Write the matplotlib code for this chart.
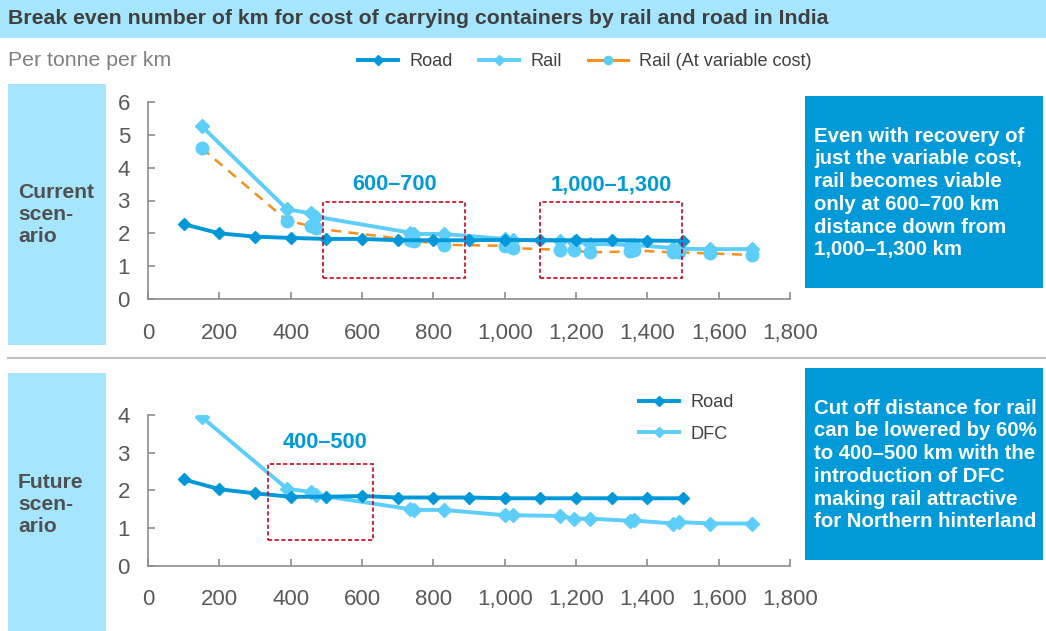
import matplotlib.pyplot as plt
from matplotlib.lines import Line2D
from matplotlib.patches import Rectangle

plt.rcParams['font.family'] = ['Liberation Sans', 'DejaVu Sans']

# distances (km) and cost per tonne per km
road_km = [100, 200, 300, 400, 500, 600, 700, 800, 900, 1000, 1100, 1200, 1300, 1400, 1500]
road_now = [2.28, 2.0, 1.9, 1.86, 1.83, 1.83, 1.79, 1.79, 1.79, 1.8, 1.79, 1.79, 1.79, 1.78, 1.77]
road_future = [2.29, 2.03, 1.92, 1.83, 1.83, 1.85, 1.81, 1.81, 1.81, 1.79, 1.79, 1.79, 1.79, 1.79, 1.79]

rail_km = [150, 390, 457, 470, 735, 745, 830, 1000, 1022, 1155, 1195, 1240, 1352, 1362, 1473, 1488, 1575, 1693]
rail_now = [5.27, 2.73, 2.61, 2.51, 2.02, 1.98, 1.98, 1.83, 1.80, 1.78, 1.75, 1.68, 1.65, 1.65, 1.55, 1.53, 1.52, 1.52]
rail_var = [4.6, 2.39, 2.22, 2.15, 1.80, 1.78, 1.65, 1.62, 1.55, 1.50, 1.48, 1.42, 1.45, 1.48, 1.42, 1.42, 1.39, 1.34]
dfc = [3.95, 2.04, 1.96, 1.88, 1.50, 1.48, 1.48, 1.34, 1.34, 1.32, 1.25, 1.25, 1.19, 1.20, 1.12, 1.16, 1.12, 1.12]

xticks = [0, 200, 400, 600, 800, 1000, 1200, 1400, 1600, 1800]
xlabels = ['0', '200', '400', '600', '800', '1,000', '1,200', '1,400', '1,600', '1,800']

C_ROAD = '#0098d8'
C_RAIL = '#5dcdfa'
C_VAR = '#f39020'
C_BOX = '#009ad9'
C_LIGHT = '#a5e5fd'
C_RED = '#d0021b'
C_TXT = '#595959'

W, H = 1046, 631
fig = plt.figure(figsize=(W / 100, H / 100), dpi=100)


def fx(px):
    return px / W


def fy(py):
    return 1 - py / H


def frect(x0, y0, x1, y1, color):
    fig.patches.append(Rectangle((fx(x0), fy(y1)), fx(x1 - x0), (y1 - y0) / H,
                                 transform=fig.transFigure, color=color, lw=0, zorder=0))


# header band and side panels
frect(0, 0, W, 38, C_LIGHT)
fig.text(fx(8), fy(19), 'Break even number of km for cost of carrying containers by rail and road in India',
         fontsize=15.3, fontweight='bold', color='#404040', va='center')
fig.text(fx(8), fy(61), 'Per tonne per km', fontsize=15.3, color='#808080', va='center')

frect(8, 84, 106, 345, C_LIGHT)
frect(8, 373, 106, 631, C_LIGHT)
fig.add_artist(Line2D([fx(8), 1], [fy(358), fy(358)], transform=fig.transFigure,
                      color='#c0c0c0', lw=1.5))
fig.text(fx(18), fy(215), 'Current\nscen-\nario', fontsize=15.2, fontweight='bold',
         color='#505050', va='center', linespacing=1.2)
fig.text(fx(18), fy(505), 'Future\nscen-\nario', fontsize=15.2, fontweight='bold',
         color='#505050', va='center', linespacing=1.2)

frect(805, 96, 1043, 288, C_BOX)
frect(805, 368, 1043, 560, C_BOX)
fig.text(fx(814), fy(193), 'Even with recovery of\njust the variable cost,\nrail becomes viable\n'
         'only at 600\u2013700 km\ndistance down from\n1,000\u20131,300 km',
         fontsize=14.7, fontweight='bold', color='white', va='center', linespacing=1.25)
fig.text(fx(814), fy(465), 'Cut off distance for rail\ncan be lowered by 60%\nto 400\u2013500 km with the\n'
         'introduction of DFC\nmaking rail attractive\nfor Northern hinterland',
         fontsize=14.7, fontweight='bold', color='white', va='center', linespacing=1.25)


def style(ax, ymax):
    ax.set_xlim(0, 1800)
    ax.set_ylim(0, ymax)
    ax.set_xticks(xticks)
    ax.set_xticklabels(xlabels)
    ax.set_yticks(range(ymax + 1))
    for s in ['top', 'right']:
        ax.spines[s].set_visible(False)
    for s in ['left', 'bottom']:
        ax.spines[s].set_color('#8c8c8c')
        ax.spines[s].set_linewidth(1.2)
    ax.tick_params(axis='both', direction='in', length=5, width=1.2, color='#8c8c8c',
                   labelsize=16, labelcolor=C_TXT)
    ax.tick_params(axis='x', pad=17)
    ax.tick_params(axis='y', pad=13)
    ax.patch.set_alpha(0)


# current scenario
ax1 = fig.add_axes([fx(148), fy(299), fx(642), 197 / H])
style(ax1, 6)
ax1.plot(rail_km, rail_var, color=C_VAR, lw=1.8, dashes=(4, 3), zorder=2)
ax1.plot(rail_km, rail_var, 'o', color=C_RAIL, ms=9, zorder=3)
ax1.plot(rail_km, rail_now, color=C_RAIL, lw=2.8, marker='D', ms=7, zorder=4)
ax1.plot(road_km, road_now, color=C_ROAD, lw=2.8, marker='D', ms=6.5, zorder=5)

for x0, x1 in [(490, 890), (1100, 1497)]:
    ax1.add_patch(Rectangle((x0, 0.64), x1 - x0, 2.3, fill=False, ec=C_RED, lw=1.2,
                            ls=(0, (2.5, 1.5)), zorder=6))
ax1.text(690, 3.48, '600\u2013700', ha='center', va='center', fontsize=15.7,
         fontweight='bold', color=C_BOX)
ax1.text(1300, 3.48, '1,000\u20131,300', ha='center', va='center', fontsize=15.7,
         fontweight='bold', color=C_BOX)

# future scenario with DFC
ax2 = fig.add_axes([fx(148), fy(565.7), fx(642), 150.7 / H])
style(ax2, 4)
ax2.plot(rail_km, dfc, color=C_RAIL, lw=2.8, marker='D', ms=7, zorder=4)
ax2.plot(road_km, road_future, color=C_ROAD, lw=2.8, marker='D', ms=6.5, zorder=5)
ax2.add_patch(Rectangle((336, 0.68), 295, 2.02, fill=False, ec=C_RED, lw=1.2,
                        ls=(0, (2.5, 1.5)), zorder=6))
ax2.text(497, 3.26, '400\u2013500', ha='center', va='center', fontsize=15.7,
         fontweight='bold', color=C_BOX)

# legends
h_road = Line2D([], [], color=C_ROAD, lw=2.8, marker='D', ms=5)
h_rail = Line2D([], [], color=C_RAIL, lw=2.8, marker='D', ms=5)
h_var = Line2D([], [], color=C_VAR, lw=2.2, marker='o', ms=6, mfc=C_RAIL, mec=C_RAIL)
fig.legend([h_road, h_rail, h_var], ['Road', 'Rail', 'Rail (At variable cost)'],
           loc='center left', bbox_to_anchor=(fx(358), fy(62)), ncol=3, frameon=False,
           fontsize=13.1, handlelength=2.2, handletextpad=0.65, columnspacing=1.4,
           labelcolor='#404040', borderaxespad=0, borderpad=0)
fig.legend([h_road, h_rail], ['Road', 'DFC'], loc='upper left',
           bbox_to_anchor=(fx(639), fy(394)), frameon=False, fontsize=13.1,
           handlelength=2.2, handletextpad=0.65, labelspacing=0.8, labelcolor='#404040',
           borderaxespad=0, borderpad=0)

fig.savefig('out.png', dpi=100)
